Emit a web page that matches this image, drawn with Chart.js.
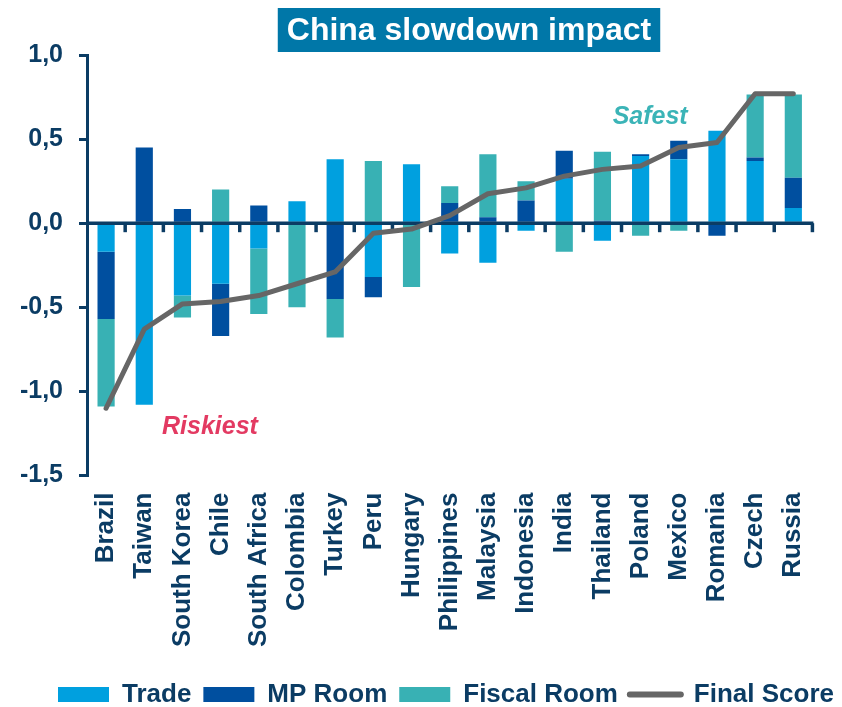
<!DOCTYPE html>
<html><head><meta charset="utf-8">
<script src="https://cdn.jsdelivr.net/npm/chart.js@4.4.1/dist/chart.umd.min.js"></script>
<style>html,body{margin:0;padding:0;background:#fff;} canvas{display:block;}</style>
</head><body>
<canvas id="c" width="842" height="707"></canvas>
<script>
const categories = ['Brazil','Taiwan','South Korea','Chile','South Africa','Colombia','Turkey','Peru','Hungary','Philippines','Malaysia','Indonesia','India','Thailand','Poland','Mexico','Romania','Czech','Russia'];
const trade      = [-0.17, -1.08, -0.43, -0.36, -0.15, 0.13, 0.38, -0.32, 0.35, -0.18, -0.235, -0.045, 0.265, -0.105, 0.40, 0.38, 0.55, 0.37, 0.09];
const mpRoom     = [-0.40, 0.45, 0.085, -0.31, 0.105, 0, -0.45, -0.12, 0, 0.12, 0.035, 0.135, 0.165, 0.015, 0.01, 0.11, -0.075, 0.02, 0.18];
const fiscalRoom = [-0.52, 0, -0.13, 0.20, -0.39, -0.50, -0.23, 0.37, -0.38, 0.10, 0.375, 0.115, -0.17, 0.41, -0.075, -0.045, 0, 0.375, 0.495];
const finalScore = [-1.10, -0.63, -0.48, -0.465, -0.43, -0.36, -0.29, -0.06, -0.035, 0.045, 0.175, 0.21, 0.28, 0.32, 0.34, 0.45, 0.48, 0.77, 0.77];
const yTickValues = [-1.5, -1.0, -0.5, 0, 0.5, 1.0];
const yTickLabels = ['-1,5', '-1,0', '-0,5', '0,0', '0,5', '1,0'];
const seriesNames = ['Trade', 'MP Room', 'Fiscal Room', 'Final Score'];
const titleText = 'China slowdown impact';
const noteTexts = ['Safest', 'Riskiest'];
const notePosX = [14.25, 2.72];
const notePosY = [0.63, -1.21];

const NAVY = '#0B3C64';
const C_TRADE = '#00A0DF', C_MP = '#004F9F', C_FISCAL = '#38B1B4', C_LINE = '#666666';
const noteColors = ['#3BB4B7', '#E33A62'];
const FONT = '"Liberation Sans", Arial, sans-serif';
Chart.defaults.font.family = FONT;
Chart.defaults.font.weight = 'bold';
Chart.defaults.color = NAVY;

const decor = {
  id: 'decor',
  afterLayout(chart) {
    // shift the legend block to sit under the plot like the reference
    if (chart.legend) { chart.legend.left += 24; chart.legend.right += 24; }
  },
  beforeDatasetDraw(chart, args) {
    if (args.index !== 3) return;
    const {ctx, chartArea} = chart;
    const xs = chart.scales.x, ys = chart.scales.y;
    const y0 = ys.getPixelForValue(0);
    ctx.save();
    ctx.strokeStyle = NAVY;
    ctx.lineWidth = 3.5;
    ctx.beginPath();
    ctx.moveTo(chartArea.left, y0);
    ctx.lineTo(chartArea.right + 1, y0);
    ctx.stroke();
    for (let i = 0; i < categories.length; i++) {
      const x = xs.getPixelForValue(i + 0.5);
      ctx.beginPath();
      ctx.moveTo(x, y0);
      ctx.lineTo(x, y0 + 9);
      ctx.stroke();
    }
    ctx.restore();
  },
  afterDraw(chart) {
    const {ctx} = chart;
    const xs = chart.scales.x, ys = chart.scales.y;
    ctx.save();
    ctx.font = 'bold 32px ' + FONT;
    const tw = ctx.measureText(titleText).width;
    const cx = 469, top = 8, h = 44;
    ctx.fillStyle = '#0077A8';
    ctx.fillRect(cx - tw / 2 - 9, top, tw + 18, h);
    ctx.fillStyle = '#FFFFFF';
    ctx.textAlign = 'center';
    ctx.textBaseline = 'middle';
    ctx.fillText(titleText, cx, top + h / 2 + 1);
    ctx.font = 'italic bold 25px ' + FONT;
    for (let i = 0; i < noteTexts.length; i++) {
      ctx.fillStyle = noteColors[i];
      ctx.fillText(noteTexts[i], xs.getPixelForValue(notePosX[i]), ys.getPixelForValue(notePosY[i]));
    }
    ctx.restore();
  }
};

const barCommon = {type: 'bar', stack: 'bars', order: 1, barPercentage: 0.45, categoryPercentage: 1, borderWidth: 0};

new Chart(document.getElementById('c'), {
  data: {
    labels: categories,
    datasets: [
      Object.assign({label: seriesNames[0], data: trade, backgroundColor: C_TRADE}, barCommon),
      Object.assign({label: seriesNames[1], data: mpRoom, backgroundColor: C_MP}, barCommon),
      Object.assign({label: seriesNames[2], data: fiscalRoom, backgroundColor: C_FISCAL}, barCommon),
      {type: 'line', label: seriesNames[3], data: finalScore, stack: 'score', order: 0,
       borderColor: C_LINE, backgroundColor: C_LINE, borderWidth: 5, pointRadius: 0, tension: 0,
       borderCapStyle: 'round', borderJoinStyle: 'round', fill: false}
    ]
  },
  options: {
    responsive: false,
    animation: false,
    layout: {padding: {top: 55, left: 20, right: 18, bottom: -10.5}},
    plugins: {
      title: {display: false},
      tooltip: {enabled: false},
      legend: {
        position: 'bottom',
        labels: {
          usePointStyle: true,
          pointStyleWidth: 51,
          boxHeight: 15,
          padding: 12,
          color: NAVY,
          font: {size: 26, weight: 'bold', family: FONT},
          sort: (a, b) => a.datasetIndex - b.datasetIndex,
          generateLabels(chart) {
            return chart.data.datasets.map((ds, i) => {
              const isLine = ds.type === 'line';
              return {
                text: ds.label, datasetIndex: i, hidden: false,
                fillStyle: isLine ? ds.borderColor : ds.backgroundColor,
                strokeStyle: isLine ? ds.borderColor : ds.backgroundColor,
                lineWidth: isLine ? 6 : 0,
                lineCap: 'round',
                pointStyle: isLine ? 'line' : 'rect',
                fontColor: NAVY
              };
            });
          }
        }
      }
    },
    scales: {
      x: {
        stacked: true,
        grid: {display: false, drawTicks: false},
        border: {display: false},
        ticks: {autoSkip: false, minRotation: 90, maxRotation: 90, padding: 17, color: NAVY,
                font: {size: 26, weight: 'bold', family: FONT}},
        afterFit(s) { s.height = 194; }
      },
      y: {
        stacked: true,
        min: -1.5, max: 1.0,
        grid: {drawOnChartArea: false, drawTicks: true, tickLength: 8, color: NAVY, lineWidth: 3},
        border: {display: true, color: NAVY, width: 3},
        ticks: {stepSize: 0.5, padding: 16, color: NAVY, font: {size: 25, weight: 'bold', family: FONT},
          callback(v) {
            const i = yTickValues.findIndex(t => Math.abs(t - v) < 1e-9);
            return i >= 0 ? yTickLabels[i] : '';
          }},
        afterFit(s) { s.width = 67; }
      }
    }
  },
  plugins: [decor]
});
</script>
</body></html>
